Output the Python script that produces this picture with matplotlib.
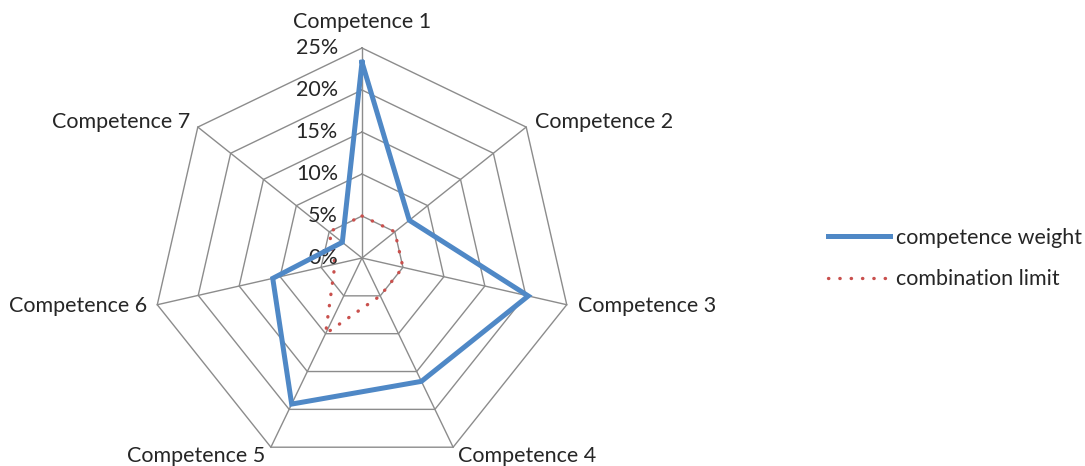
import numpy as np
import matplotlib
matplotlib.use("Agg")
import matplotlib.pyplot as plt

categories = ["Competence 1", "Competence 2", "Competence 3", "Competence 4",
              "Competence 5", "Competence 6", "Competence 7"]
competence_weight = [23.3, 7.2, 20.3, 16.3, 19.3, 10.9, 3.0]
combination_limit = [5.0, 5.0, 5.0, 5.0, 10.0, 3.3, 5.0]
levels = [0, 5, 10, 15, 20, 25]
level_labels = ["0%", "5%", "10%", "15%", "20%", "25%"]

BLUE = "#4F88C6"
RED = "#C9504D"
GRID = "#8C8C8C"
TEXT = "#262626"
FS = 15.5

plt.rcParams["font.family"] = ["Lato", "DejaVu Sans"]

fig = plt.figure(figsize=(10.85, 4.66), dpi=100)
# axes centred on (362, 258) px with a 210 px radius
ax = fig.add_axes([0.1401, -0.0043, 0.3871, 0.9013], projection="polar")
ax.set_theta_offset(np.pi / 2)
ax.set_theta_direction(-1)
ax.set_ylim(0, levels[-1])
ax.grid(False)
ax.spines["polar"].set_visible(False)
ax.set_xticks([])
ax.set_yticks([])
ax.patch.set_alpha(0)

n = len(categories)
theta = np.linspace(0, 2 * np.pi, n, endpoint=False)
closed = np.append(theta, theta[0])

# heptagon grid + spokes
for lv in levels[1:]:
    ax.plot(closed, [lv] * (n + 1), color=GRID, lw=1.0, clip_on=False, zorder=1)
for t in theta:
    ax.plot([t, t], [0, levels[-1]], color=GRID, lw=1.0, clip_on=False, zorder=1)

# value axis labels
for lv, lab in zip(levels, level_labels):
    ax.annotate(lab, xy=(0, lv), xytext=(-24, 0), textcoords="offset pixels",
                ha="right", va="center", fontsize=FS, color=TEXT,
                annotation_clip=False)

# category labels
offsets = [(0, 26, "center"), (9, 5, "left"), (11, -1, "left"), (5, -9, "left"),
           (-6, -9, "right"), (-10, -1, "right"), (-8, 5, "right")]
for t, lab, (dx, dy, ha) in zip(theta, categories, offsets):
    ax.annotate(lab, xy=(t, levels[-1]), xytext=(dx, dy), textcoords="offset pixels",
                ha=ha, va="center", fontsize=FS, color=TEXT, annotation_clip=False)

w = competence_weight + competence_weight[:1]
c = combination_limit + combination_limit[:1]
l1, = ax.plot(closed, w, color=BLUE, lw=3.6, solid_joinstyle="miter",
              label="competence weight", zorder=3, clip_on=False)
l2, = ax.plot(closed, c, color=RED, lw=2.4, linestyle=(0, (0.1, 3.3)),
              dash_capstyle="round", label="combination limit", zorder=2, clip_on=False)

leg = fig.legend(handles=[l1, l2], loc="center left", bbox_to_anchor=(0.745, 0.445),
                 frameon=False, fontsize=FS, handlelength=2.9, handletextpad=0.25,
                 labelspacing=1.0)
for txt in leg.get_texts():
    txt.set_color(TEXT)

fig.savefig("out.png", dpi=100)
